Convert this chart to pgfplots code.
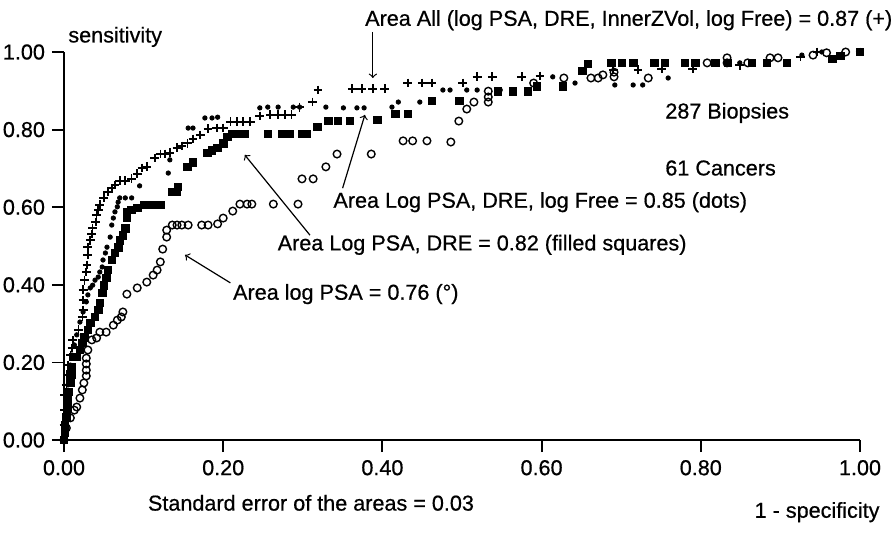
\documentclass[border=0pt]{standalone}
\usepackage{fontspec}
\setmainfont{Liberation Sans}[FakeBold=0.6]
\usepackage{pgfplots}
\pgfplotsset{compat=1.18}
\begin{document}
\begin{tikzpicture}[font=\fontsize{10.8}{12}\selectfont]
\path[use as bounding box] (-32pt,-46pt) rectangle (416pt,220pt);
\begin{axis}[
  at={(0,0)}, anchor=south west,
  scale only axis, width=398pt, height=194pt,
  xmin=0, xmax=1, ymin=0, ymax=1,
  axis x line=bottom, axis y line=left,
  axis line style={-, line width=1.3pt},
  xtick={0,0.2,0.4,0.6,0.8,1}, ytick={0,0.2,0.4,0.6,0.8,1},
  tick align=outside, major tick length=6pt,
  tick style={line width=0.9pt, black},
  /pgf/number format/.cd, fixed, fixed zerofill, precision=2, assume math mode=true,
  /pgfplots/.cd,
  xticklabel style={yshift=-0.5pt},
  clip=false,
]
% open circles: log PSA
\addplot[only marks, mark=o, mark size=1.9pt, mark options={line width=0.7pt}] coordinates {
(0.000,0.000)(0.003,0.031)(0.008,0.057)(0.013,0.077)(0.016,0.085)(0.020,0.108)
(0.023,0.129)(0.025,0.147)(0.028,0.165)(0.028,0.180)(0.028,0.196)(0.028,0.211)
(0.030,0.232)(0.035,0.258)(0.041,0.263)(0.045,0.278)(0.053,0.278)(0.062,0.296)
(0.067,0.309)(0.072,0.317)(0.074,0.330)(0.079,0.376)(0.092,0.392)(0.104,0.407)
(0.112,0.425)(0.117,0.438)(0.121,0.459)(0.124,0.492)(0.129,0.523)(0.129,0.541)
(0.136,0.554)(0.142,0.554)(0.148,0.554)(0.156,0.554)(0.173,0.554)(0.181,0.554)
(0.193,0.557)(0.200,0.572)(0.212,0.590)(0.221,0.608)(0.230,0.608)(0.236,0.608)
(0.263,0.608)(0.294,0.608)(0.299,0.673)(0.313,0.673)(0.329,0.704)(0.343,0.737)
(0.386,0.737)(0.426,0.771)(0.438,0.771)(0.456,0.771)(0.486,0.768)(0.496,0.822)
(0.506,0.853)(0.515,0.871)(0.533,0.871)(0.533,0.884)(0.533,0.899)(0.590,0.920)
(0.628,0.933)(0.662,0.933)(0.671,0.933)(0.677,0.941)(0.691,0.936)(0.691,0.948)
(0.734,0.933)(0.808,0.972)(0.833,0.985)(0.833,0.972)(0.859,0.972)(0.887,0.985)
(0.897,0.985)(0.941,0.992)(0.958,0.998)(0.982,1.000)
};
% filled squares: log PSA, DRE
\addplot[only marks, mark=square*, mark size=1.9pt] coordinates {
(0.000,0.000)(0.001,0.018)(0.001,0.039)(0.003,0.059)(0.004,0.082)(0.005,0.103)
(0.006,0.124)(0.008,0.147)(0.009,0.168)(0.010,0.188)(0.011,0.214)(0.016,0.214)
(0.020,0.232)(0.023,0.250)(0.026,0.265)(0.030,0.284)(0.033,0.302)(0.039,0.317)
(0.043,0.335)(0.045,0.353)(0.048,0.379)(0.050,0.399)(0.053,0.418)(0.055,0.438)
(0.060,0.464)(0.064,0.482)(0.068,0.497)(0.070,0.515)(0.074,0.528)(0.077,0.546)
(0.079,0.572)(0.079,0.588)(0.085,0.593)(0.092,0.598)(0.101,0.606)(0.108,0.606)
(0.114,0.606)(0.121,0.606)(0.136,0.639)(0.142,0.639)(0.143,0.652)(0.155,0.704)
(0.162,0.716)(0.180,0.740)(0.186,0.747)(0.193,0.753)(0.200,0.765)(0.205,0.781)
(0.211,0.789)(0.219,0.789)(0.227,0.789)(0.256,0.789)(0.274,0.789)(0.284,0.789)
(0.299,0.789)(0.305,0.789)(0.318,0.807)(0.332,0.822)(0.344,0.822)(0.359,0.822)
(0.394,0.825)(0.416,0.840)(0.432,0.840)(0.462,0.874)(0.497,0.874)(0.545,0.899)
(0.564,0.899)(0.583,0.899)(0.594,0.912)(0.627,0.912)(0.651,0.951)(0.658,0.969)
(0.688,0.972)(0.701,0.972)(0.715,0.972)(0.742,0.972)(0.755,0.972)(0.780,0.972)
(0.793,0.972)(0.818,0.972)(0.834,0.972)(0.864,0.972)(0.883,0.972)(0.908,0.972)
(0.965,0.982)(0.975,0.990)(1.000,1.000)
};
% small dots: log PSA, DRE, log Free
\addplot[only marks, mark=*, mark size=1.1pt] coordinates {
(0.000,0.000)(0.000,0.031)(0.001,0.064)(0.003,0.090)(0.004,0.116)(0.005,0.142)
(0.006,0.168)(0.008,0.193)(0.010,0.219)(0.013,0.245)(0.016,0.271)(0.020,0.304)
(0.024,0.330)(0.028,0.356)(0.030,0.374)(0.033,0.392)(0.036,0.399)(0.039,0.412)
(0.043,0.420)(0.045,0.433)(0.048,0.446)(0.049,0.464)(0.052,0.482)(0.054,0.497)
(0.058,0.523)(0.060,0.554)(0.062,0.572)(0.064,0.588)(0.067,0.601)(0.068,0.613)
(0.070,0.624)(0.077,0.624)(0.085,0.624)(0.095,0.655)(0.131,0.688)(0.133,0.722)
(0.156,0.804)(0.162,0.804)(0.177,0.830)(0.186,0.830)(0.193,0.832)(0.246,0.856)
(0.256,0.858)(0.269,0.858)(0.288,0.858)(0.296,0.858)(0.329,0.858)(0.351,0.856)
(0.368,0.856)(0.377,0.856)(0.412,0.858)(0.420,0.871)(0.447,0.871)(0.476,0.902)
(0.485,0.902)(0.506,0.902)(0.519,0.902)(0.548,0.902)(0.614,0.936)(0.642,0.920)
(0.692,0.915)(0.715,0.915)(0.727,0.915)(0.759,0.933)(0.849,0.972)(0.927,0.992)
(0.952,1.000)(1.000,1.000)
};
% plus: all variables
\addplot[only marks, mark=+, mark size=2.2pt, mark options={line width=0.8pt}] coordinates {
(0.000,0.000)(0.000,0.039)(0.001,0.077)(0.001,0.116)(0.003,0.142)(0.004,0.168)
(0.005,0.193)(0.008,0.219)(0.010,0.237)(0.011,0.258)(0.018,0.284)(0.023,0.317)
(0.024,0.335)(0.024,0.361)(0.024,0.387)(0.026,0.412)(0.028,0.433)(0.029,0.451)
(0.030,0.477)(0.030,0.497)(0.033,0.515)(0.035,0.531)(0.036,0.546)(0.040,0.562)
(0.041,0.580)(0.043,0.593)(0.045,0.606)(0.050,0.624)(0.055,0.639)(0.060,0.649)
(0.064,0.657)(0.070,0.668)(0.077,0.668)(0.085,0.673)(0.092,0.686)(0.098,0.701)
(0.104,0.704)(0.114,0.727)(0.121,0.737)(0.127,0.737)(0.133,0.740)(0.142,0.753)
(0.148,0.758)(0.155,0.765)(0.162,0.776)(0.171,0.786)(0.181,0.802)(0.192,0.804)
(0.200,0.804)(0.209,0.820)(0.217,0.820)(0.225,0.820)(0.234,0.820)(0.246,0.835)
(0.259,0.838)(0.269,0.838)(0.278,0.838)(0.286,0.838)(0.296,0.858)(0.312,0.871)
(0.319,0.902)(0.362,0.905)(0.374,0.905)(0.388,0.905)(0.403,0.905)(0.432,0.920)
(0.450,0.920)(0.462,0.920)(0.501,0.920)(0.519,0.936)(0.538,0.936)(0.575,0.936)
(0.598,0.938)(0.690,0.954)(0.721,0.954)(0.751,0.956)(0.790,0.956)(0.849,0.966)
(0.925,0.987)(0.946,1.000)(1.000,1.000)
};
% annotations
\node[anchor=south west, inner sep=0pt] at (axis cs:0.005,1.012) {sensitivity};
\node[anchor=east, inner sep=0pt] at (axis cs:1.041,1.082) {Area All (log PSA, DRE, InnerZVol, log Free) = 0.87 (+)};
\draw[->, line width=0.6pt] (axis cs:0.388,1.052) -- (axis cs:0.388,0.933);
\node[anchor=west, inner sep=0pt] at (axis cs:0.755,0.843) {287 Biopsies};
\node[anchor=west, inner sep=0pt] at (axis cs:0.755,0.701) {61 Cancers};
\node[anchor=west, inner sep=0pt] at (axis cs:0.338,0.613) {Area Log PSA, DRE, log Free = 0.85 (dots)};
\draw[->, line width=0.6pt] (axis cs:0.350,0.649) -- (axis cs:0.378,0.838);
\node[anchor=west, inner sep=0pt] at (axis cs:0.268,0.503) {Area Log PSA, DRE = 0.82 (filled squares)};
\draw[->, line width=0.6pt] (axis cs:0.309,0.528) -- (axis cs:0.227,0.735);
\node[anchor=west, inner sep=0pt] at (axis cs:0.212,0.376) {Area log PSA = 0.76 (°)};
\draw[->, line width=0.6pt] (axis cs:0.209,0.405) -- (axis cs:0.152,0.477);
\node[anchor=west, inner sep=0pt] at (axis cs:0.105,-0.162) {Standard error of the areas = 0.03};
\node[anchor=east, inner sep=0pt] at (axis cs:1.025,-0.186) {1 - specificity};
\end{axis}
\end{tikzpicture}
\end{document}
